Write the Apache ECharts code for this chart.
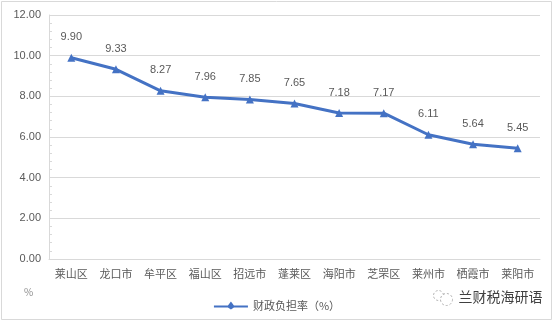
<!DOCTYPE html>
<html>
<head>
<meta charset="utf-8">
<script src="https://cdn.jsdelivr.net/npm/echarts@6/dist/echarts.min.js"></script>
<style>
html,body{margin:0;padding:0;background:#fff;}
#chart{width:554px;height:323px;}
</style>
</head>
<body>
<div id="chart"></div>
<script>
// 各区市财政负担率（%）
var categories = ['莱山区','龙口市','牟平区','福山区','招远市','蓬莱区','海阳市','芝罘区','莱州市','栖霞市','莱阳市'];
var burdenRate = [9.90, 9.33, 8.27, 7.96, 7.85, 7.65, 7.18, 7.17, 6.11, 5.64, 5.45];
var seriesName = '财政负担率（%）';
var unitLabel = '%';
var brandText = '兰财税海研语';

var font = '"Noto Sans CJK SC", "Microsoft YaHei", sans-serif';
var chart = echarts.init(document.getElementById('chart'));
chart.setOption({
  animation: false,
  backgroundColor: '#fff',
  grid: { left: 49, right: 14, top: 15, bottom: 64, containLabel: false },
  legend: {
    data: [seriesName],
    bottom: 7,
    left: 'center',
    itemWidth: 34,
    itemHeight: 8,
    icon: 'path://M0,4 L14,4 L17,0 L20,4 L34,4 L34,6 L20,6 L17,8 L14,6 L0,6 Z',
    textStyle: { color: '#595959', fontSize: 11, fontFamily: font }
  },
  xAxis: {
    type: 'category',
    data: categories,
    boundaryGap: true,
    axisLine: { lineStyle: { color: '#d9d9d9', width: 1 } },
    axisTick: { show: false },
    axisLabel: { color: '#595959', fontSize: 11, fontFamily: font, margin: 9, interval: 0 }
  },
  yAxis: {
    type: 'value',
    min: 0, max: 12, interval: 2,
    axisLine: { show: true, lineStyle: { color: '#d9d9d9' } },
    axisTick: { show: false, inside: true },
    minorTick: { show: true, splitNumber: 5, length: 3, lineStyle: { color: '#d9d9d9' } },
    splitLine: { lineStyle: { color: '#d9d9d9', width: 1 } },
    axisLabel: {
      color: '#595959', fontSize: 11, fontFamily: 'Liberation Sans, Arial, sans-serif', margin: 8,
      formatter: function (v) { return v.toFixed(2); }
    }
  },
  series: [{
    name: seriesName,
    type: 'line',
    data: burdenRate,
    symbol: 'triangle',
    symbolSize: 8,
    lineStyle: { color: '#4472c4', width: 3 },
    itemStyle: { color: '#4472c4' },
    label: {
      show: true, position: 'top', distance: 11,
      color: '#595959', fontSize: 11, fontFamily: 'Liberation Sans, Arial, sans-serif',
      formatter: function (p) { return p.value.toFixed(2); }
    }
  }],
  graphic: [
    { type: 'rect', shape: { x: 1.5, y: 1.5, width: 550, height: 318 },
      style: { fill: 'none', stroke: '#d9d9d9', lineWidth: 1 }, silent: true },
    { type: 'text', left: 24, top: 287,
      style: { text: unitLabel, fill: '#8c8c8c', fontSize: 10, fontFamily: font } },
    { type: 'group', left: 431, top: 288, children: [
      { type: 'circle', shape: { cx: 7, cy: 8, r: 5 },
        style: { fill: 'none', stroke: '#b0b0b0', lineWidth: 1, lineDash: [2, 2] } },
      { type: 'circle', shape: { cx: 15, cy: 12, r: 6 },
        style: { fill: '#fff', stroke: '#b0b0b0', lineWidth: 1, lineDash: [2, 2] } },
      { type: 'text', x: 27, y: 2,
        style: { text: brandText, fill: '#404040', fontSize: 14, fontFamily: font } }
    ]}
  ]
});
</script>
</body>
</html>
